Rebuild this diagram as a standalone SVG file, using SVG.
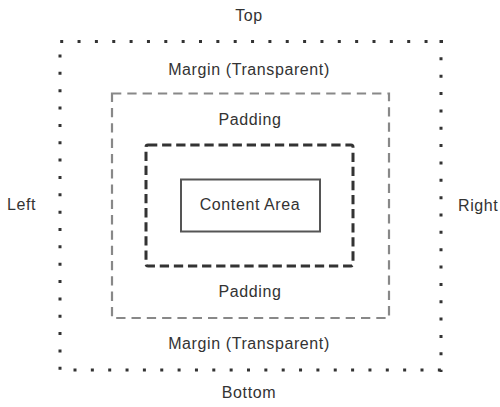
<svg xmlns="http://www.w3.org/2000/svg" width="500" height="407" viewBox="0 0 500 407">
<style>
text{font-family:"Liberation Sans",Arial,sans-serif;font-size:16px;fill:#333;letter-spacing:0.6px;text-anchor:middle}
.dot{fill:none;stroke:#333;stroke-width:3;stroke-dasharray:3 14.35}
.pad{fill:none;stroke:#888;stroke-width:2.2;stroke-dasharray:9.3 6}
.brd{fill:none;stroke:#333;stroke-width:3;stroke-dasharray:9.3 4.8}
.cnt{fill:none;stroke:#555;stroke-width:2}
</style>
<rect width="500" height="407" fill="#fff"/>
<g id="margin">
<path class="dot" d="M60.2,41.5 H443"/>
<path class="dot" d="M441,40 V372"/>
<path class="dot" d="M73.5,370 H443"/>
<path class="dot" d="M60,54.5 V372"/>
<text x="249" y="75">Margin (Transparent)</text>
<text x="249" y="349">Margin (Transparent)</text>
</g>
<g id="padding">
<rect class="pad" x="112" y="93.5" width="277" height="224.5"/>
<text x="250" y="125">Padding</text>
<text x="250" y="297">Padding</text>
</g>
<g id="border">
<rect class="brd" x="146" y="145" width="207" height="121" rx="2"/>
</g>
<g id="content">
<rect class="cnt" x="181" y="179.5" width="139" height="52"/>
<text x="250" y="209.5">Content Area</text>
</g>
<g id="labels">
<text x="249" y="21">Top</text>
<text x="249" y="398">Bottom</text>
<text x="7" y="210" style="text-anchor:start">Left</text>
<text x="458" y="210.5" style="text-anchor:start">Right</text>
</g>
<g id="connectors"></g>
</svg>
